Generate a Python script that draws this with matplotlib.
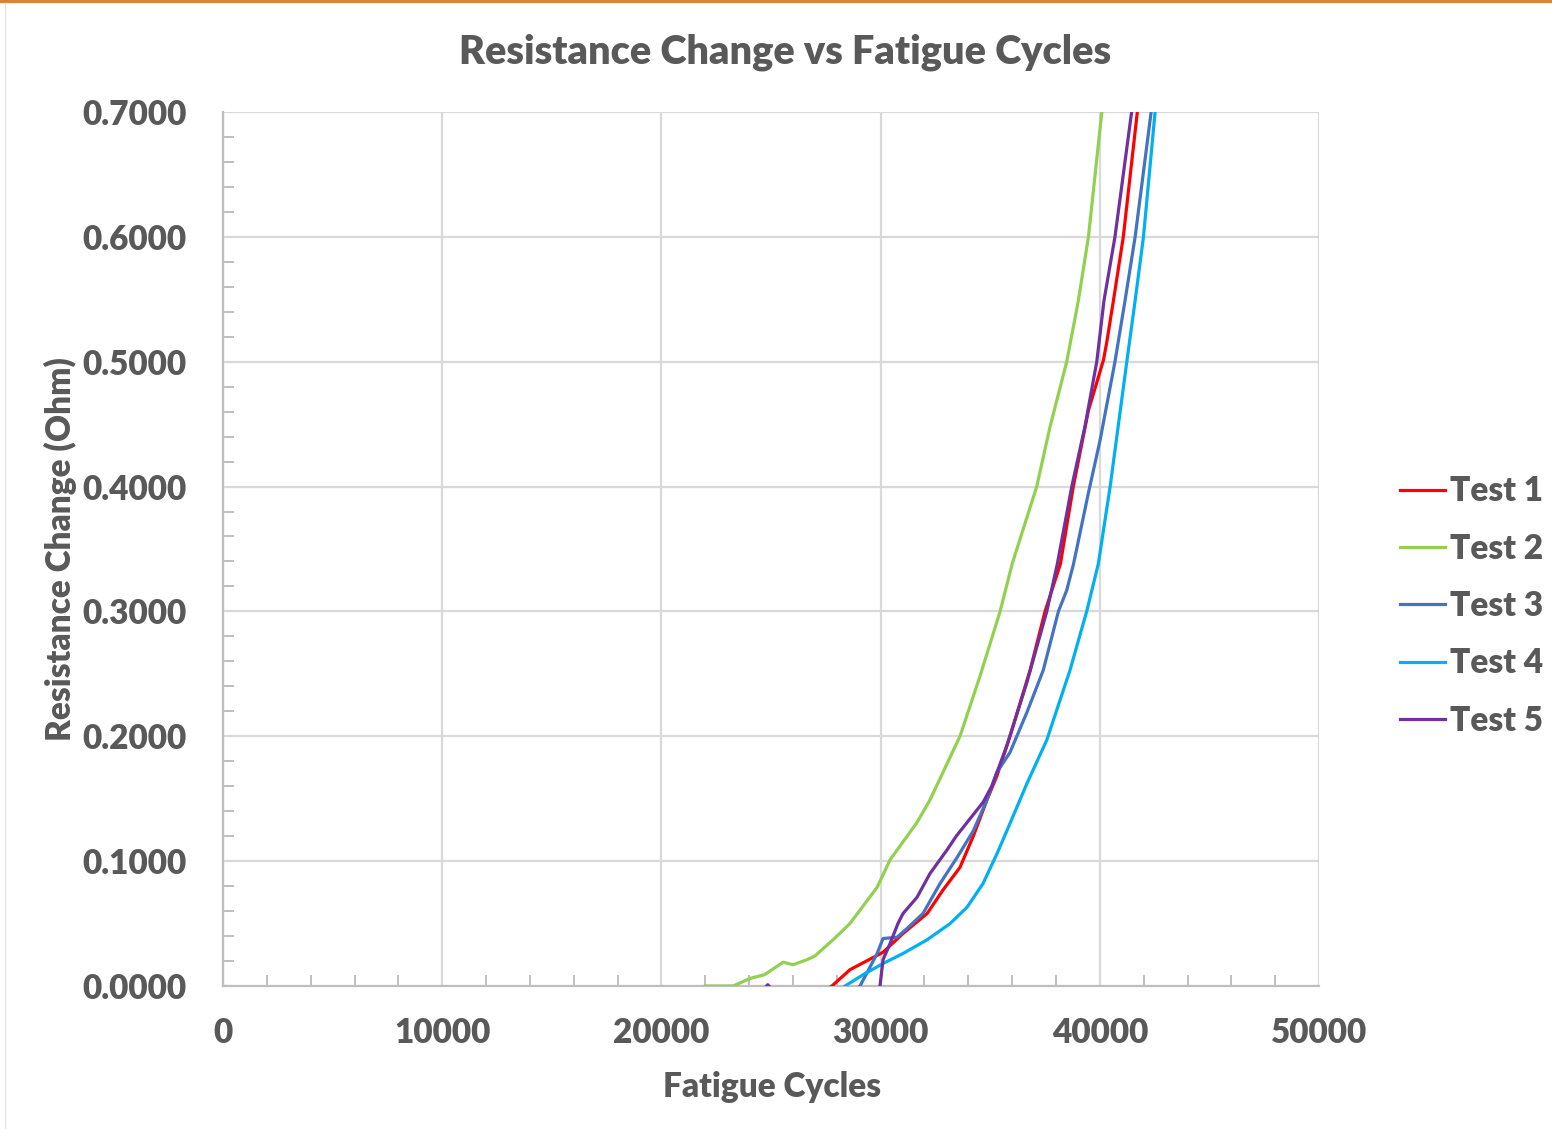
import numpy as np
import matplotlib.pyplot as plt
from matplotlib.ticker import MultipleLocator, FormatStrFormatter
from matplotlib.lines import Line2D

# values (cycles, ohm)
t1_x = [26000, 27780, 28600, 30110, 31020, 32120, 32850, 33620, 34250, 34850,
        35300, 35900, 36820, 37500, 38200, 38790, 39480, 40160, 40310, 40620,
        41070, 41710, 41850]
t1_y = [-0.02, 0.0, 0.013, 0.027, 0.042, 0.058, 0.077, 0.095, 0.121, 0.149,
        0.168, 0.200, 0.253, 0.300, 0.338, 0.400, 0.461, 0.501, 0.515, 0.549,
        0.600, 0.700, 0.730]

t2_x = [20500, 22000, 23270, 24040, 24700, 25550, 26000, 26640, 27000, 27830, 28600,
        29840, 30430, 31660, 32250, 33620, 34530, 35450, 36000, 37120, 37730,
        38490, 39020, 39480, 40090, 40250]
t2_y = [-0.02, 0.0, 0.0, 0.006, 0.009, 0.019, 0.017, 0.021, 0.024, 0.037, 0.050,
        0.079, 0.101, 0.131, 0.149, 0.200, 0.248, 0.300, 0.338, 0.400, 0.448,
        0.500, 0.549, 0.600, 0.700, 0.730]

t3_x = [27500, 29060, 29840, 30110, 30750, 31200, 31930, 32710, 33490, 34220,
        34850, 35300, 35900, 36670, 37420, 38110, 38490, 38800, 39480, 40010,
        40690, 41150, 41610, 42340, 42500]
t3_y = [-0.02, 0.0, 0.026, 0.038, 0.039, 0.046, 0.058, 0.082, 0.103, 0.124,
        0.149, 0.171, 0.187, 0.219, 0.253, 0.300, 0.317, 0.338, 0.395, 0.437,
        0.500, 0.549, 0.600, 0.700, 0.730]

t4_x = [27000, 28380, 29200, 30110, 31020, 32120, 33170, 33940, 34670, 35310,
        35800, 36670, 37580, 38640, 39400, 39930, 40470, 41230, 41610, 41990,
        42520, 42650]
t4_y = [-0.02, 0.0, 0.009, 0.018, 0.026, 0.037, 0.050, 0.063, 0.082, 0.106,
        0.126, 0.162, 0.197, 0.253, 0.300, 0.338, 0.400, 0.500, 0.549, 0.600,
        0.700, 0.730]

t5_x = [23500, 24600, 24850, 25100, 25400, 29900, 29970, 30110, 30430, 30790, 31020,
        31660, 32250, 33030, 33450, 34080, 34670, 35070, 35750, 36670, 37580,
        38060, 38720, 39320, 39860, 40190, 40690, 41450, 41600]
t5_y = [-0.02, -0.004, 0.001, -0.004, -0.02, -0.02, 0.0, 0.021, 0.034, 0.050, 0.058,
        0.071, 0.090, 0.109, 0.120, 0.134, 0.147, 0.160, 0.192, 0.243, 0.300,
        0.338, 0.400, 0.448, 0.500, 0.549, 0.600, 0.700, 0.730]

names = ['Test 1', 'Test 2', 'Test 3', 'Test 4', 'Test 5']
colors = ['#FF0000', '#92D050', '#4472C4', '#00B0F0', '#7030A0']

plt.rcParams['font.family'] = ['Lato', 'DejaVu Sans']
txt = '#595959'
wt = 'heavy'

fig = plt.figure(figsize=(15.52, 11.29), dpi=100)
ax = fig.add_axes([0.1437, 0.1267, 0.7062, 0.7741])

series = [(t1_x, t1_y), (t2_x, t2_y), (t3_x, t3_y), (t4_x, t4_y), (t5_x, t5_y)]
for (xs, ys), c, n in zip(series, colors, names):
    ax.plot(xs, ys, color=c, lw=2.3, label=n, zorder=3)

ax.set_xlim(0, 50000)
ax.set_ylim(0, 0.7)
ax.xaxis.set_major_locator(MultipleLocator(10000))
ax.xaxis.set_minor_locator(MultipleLocator(2000))
ax.yaxis.set_major_locator(MultipleLocator(0.1))
ax.yaxis.set_minor_locator(MultipleLocator(0.02))
ax.yaxis.set_major_formatter(FormatStrFormatter('%.4f'))
ax.grid(True, which='major', color='#D9D9D9', lw=1.6, zorder=0)
ax.set_axisbelow(True)

for s in ['top', 'right']:
    ax.spines[s].set_visible(False)
for s in ['left', 'bottom']:
    ax.spines[s].set_color('#BFBFBF')
    ax.spines[s].set_linewidth(1.6)

ax.tick_params(which='major', length=0, labelsize=24, labelcolor=txt)
ax.tick_params(axis='y', pad=26)
ax.tick_params(axis='x', pad=22)
ax.tick_params(which='minor', direction='in', length=8, width=1.4, color='#BFBFBF')
for lab in ax.get_xticklabels() + ax.get_yticklabels():
    lab.set_fontweight(wt)

ax.set_xlabel('Fatigue Cycles', fontsize=24, fontweight=wt, color=txt)
ax.set_ylabel('Resistance Change (Ohm)', fontsize=24, fontweight=wt, color=txt)
ax.xaxis.set_label_coords(0.5005, -0.097)
ax.yaxis.set_label_coords(-0.133, 0.5)
fig.text(0.506, 0.954, 'Resistance Change vs Fatigue Cycles', ha='center', va='center',
         fontsize=28.5, fontweight=wt, color=txt)

handles = [Line2D([], [], color=c, lw=2.3) for c in colors]
leg = fig.legend(handles, names, loc='center left', bbox_to_anchor=(0.902, 0.4632),
                 frameon=False, handlelength=1.35, handletextpad=0.15,
                 labelspacing=0.76, borderpad=0, borderaxespad=0,
                 labelcolor=txt, prop={'weight': wt, 'size': 24})

# orange band at the top and faint frame on the left
fig.add_artist(Line2D([0, 1], [0.999, 0.999], color='#D9823B', lw=3, transform=fig.transFigure))
fig.add_artist(Line2D([0.003, 0.003], [0, 0.997], color='#E6E6E6', lw=1, transform=fig.transFigure))

fig.savefig('out.png', dpi=100)
